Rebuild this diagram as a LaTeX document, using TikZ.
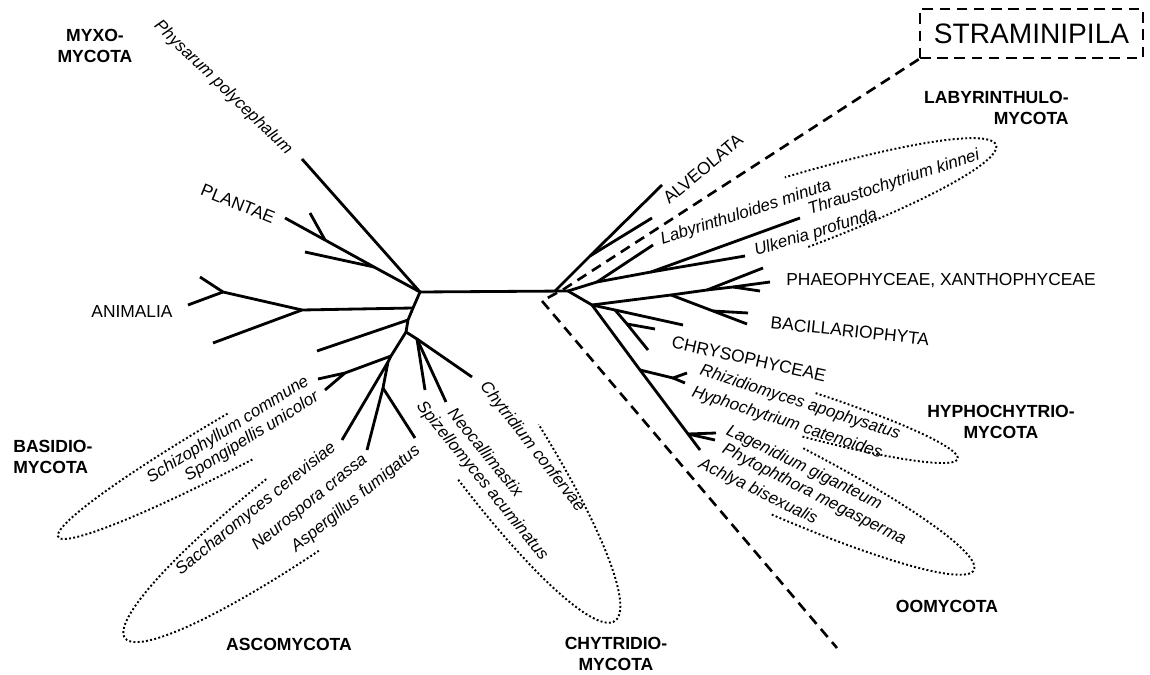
\documentclass[tikz,border=0pt]{standalone}
\usepackage{fontspec}
\setmainfont{Liberation Sans}
\begin{document}
\begin{tikzpicture}[x=0.02cm, y=-0.02cm, line join=round,
        br/.style={line width=1.6pt},
        lbl/.style={inner sep=0pt, font=\fontsize{9.9}{11}\selectfont},
        sp/.style={inner sep=0pt, font=\fontsize{9.6}{11}\selectfont\itshape},
        grp/.style={inner sep=0pt, align=center, font=\fontsize{10}{11.6}\selectfont\bfseries},
        lasso/.style={line width=1.1pt, dash pattern=on 1.1pt off 1.3pt},
        bracket/.style={line width=1.5pt, dash pattern=on 6pt off 3.8pt}]
        \useasboundingbox (0,0) rectangle (1150,675);

        % left hub and its branches
        \coordinate (a) at (420,292);
        \coordinate (s1) at (413,308);
        \coordinate (s2) at (408,320);
        \coordinate (s3) at (406,332);
        \coordinate (s4) at (391,356);
        \coordinate (asc1) at (388,362);
        \coordinate (asc2) at (383,388);
        \coordinate (p1) at (374,267);
        \coordinate (p2) at (325,240);
        \coordinate (an1) at (302,310);
        \coordinate (an2) at (223,292);
        \coordinate (ba1) at (345,373);
        \coordinate (c2) at (417,339);
        \coordinate (tPhys) at (302,159);
        \coordinate (tPl1) at (285,218);
        \coordinate (tPl2) at (310,213);
        \coordinate (tPl3) at (305,252);
        \coordinate (tAn1) at (200,277);
        \coordinate (tAn2) at (188,305);
        \coordinate (tAn3) at (213,343);
        \coordinate (tUn) at (317,351);
        \coordinate (tSchi) at (318,379);
        \coordinate (tSpon) at (325,390);
        \coordinate (tSacc) at (342,440);
        \coordinate (tNeur) at (367,450);
        \coordinate (tAsp) at (415,438);
        \coordinate (tSpiz) at (425,390);
        \coordinate (tNeo) at (446,402);
        \coordinate (tChyt) at (472,377);

        % right hub and its branches
        \coordinate (b1) at (555,291);
        \coordinate (b2) at (568,291);
        \coordinate (al1) at (590,256);
        \coordinate (l1) at (597,282);
        \coordinate (l2) at (651,272);
        \coordinate (ph0) at (592,305);
        \coordinate (ph1) at (671,295);
        \coordinate (ph2) at (707,290);
        \coordinate (ph3) at (733,287);
        \coordinate (bac1) at (713,311);
        \coordinate (ch1) at (615,310);
        \coordinate (ch2) at (627,324);
        \coordinate (hy0) at (640,370);
        \coordinate (hy1) at (673,378);
        \coordinate (oo0) at (688,434);
        \coordinate (tAlv) at (662,185);
        \coordinate (tAl2) at (652,218);
        \coordinate (tLaby) at (653,245);
        \coordinate (tUlk) at (745,256);
        \coordinate (tThr) at (800,218);
        \coordinate (tPh1) at (763,268);
        \coordinate (tPh2) at (770,282);
        \coordinate (tPh3) at (760,291);
        \coordinate (tBa1) at (748,313);
        \coordinate (tBa2) at (747,324);
        \coordinate (tCh1) at (683,325);
        \coordinate (tCh2) at (648,350);
        \coordinate (tCh3) at (655,329);
        \coordinate (tHy1) at (687,373);
        \coordinate (tHy2) at (685,383);
        \coordinate (tOo1) at (716,433);
        \coordinate (tOo2) at (715,440);
        \coordinate (tAch) at (700,450);

        \draw[br] (a) to (b2);
        \draw[br] (a) to (tPhys);
        \draw[br] (a) to (p1) to (p2) to (tPl1);
        \draw[br] (p1) to (tPl3);
        \draw[br] (p2) to (tPl2);
        \draw[br] (a) to (s1) to (s2) to (s3) to (s4) to (asc1) to (asc2) to (tNeur);
        \draw[br] (s1) to (an1) to (tAn3);
        \draw[br] (an1) to (an2) to (tAn1);
        \draw[br] (an2) to (tAn2);
        \draw[br] (s2) to (tUn);
        \draw[br] (s3) to (c2) to (tChyt);
        \draw[br] (c2) to (tSpiz);
        \draw[br] (c2) to (tNeo);
        \draw[br] (s4) to (ba1) to (tSchi);
        \draw[br] (ba1) to (tSpon);
        \draw[br] (asc1) to (tSacc);
        \draw[br] (asc2) to (tAsp);

        \draw[br] (b1) to (al1) to (tAlv);
        \draw[br] (al1) to (tAl2);
        \draw[br] (b2) to (l1) to (l2) to (tThr);
        \draw[br] (l1) to (tLaby);
        \draw[br] (l2) to (tUlk);
        \draw[br] (b2) to (ph0) to (ph1) to (ph2) to (ph3) to (tPh2);
        \draw[br] (ph2) to (tPh1);
        \draw[br] (ph3) to (tPh3);
        \draw[br] (ph1) to (bac1) to (tBa2);
        \draw[br] (bac1) to (tBa1);
        \draw[br] (ph0) to (ch1) to (tCh1);
        \draw[br] (ch1) to (ch2) to (tCh2);
        \draw[br] (ch2) to (tCh3);
        \draw[br] (ph0) to (hy0) to (oo0) to (tAch);
        \draw[br] (hy0) to (hy1) to (tHy1);
        \draw[br] (hy1) to (tHy2);
        \draw[br] (oo0) to (tOo1);
        \draw[br] (oo0) to (tOo2);

        % taxon labels
        \node[sp, rotate=-44] (lPhys) at (223,88) {Physarum polycephalum};
        \node[lbl, rotate=-22] (lPlan) at (238,204) {PLANTAE};
        \node[lbl] (lAnim) at (132,312) {ANIMALIA};
        \node[sp, rotate=32] (lSchi) at (228,430) {Schizophyllum commune};
        \node[sp, rotate=32] (lSpon) at (252,437) {Spongipellis unicolor};
        \node[sp, rotate=39] (lSacc) at (256,509) {Saccharomyces cerevisiae};
        \node[sp, rotate=39] (lNeur) at (310,503) {Neurospora crassa};
        \node[sp, rotate=39] (lAsp) at (356,499) {Aspergillus fumigatus};
        \node[sp, rotate=-51] (lSpiz) at (482,481) {Spizellomyces acuminatus};
        \node[sp, rotate=-51] (lNeo) at (486,452) {Neocallimastix};
        \node[sp, rotate=-52] (lChyt) at (532,447) {Chytridium confervae};
        \node[lbl, rotate=40] (lAlv) at (703,169) {ALVEOLATA};
        \node[sp, rotate=18] (lLaby) at (746,213) {Labyrinthuloides minuta};
        \node[sp, rotate=18] (lThr) at (894,183) {Thraustochytrium kinnei};
        \node[sp, rotate=17] (lUlk) at (816,233) {Ulkenia profunda};
        \node[lbl] (lPhae) at (941,281) {PHAEOPHYCEAE, XANTHOPHYCEAE};
        \node[lbl, rotate=-6] (lBac) at (850,331) {BACILLARIOPHYTA};
        \node[lbl, rotate=-12.6] (lChr) at (749,359) {CHRYSOPHYCEAE};
        \node[sp, rotate=-18] (lRhi) at (800,403) {Rhizidiomyces apophysatus};
        \node[sp, rotate=-18] (lHyp) at (787,423) {Hyphochytrium catenoides};
        \node[sp, rotate=-26] (lLag) at (804,468) {Lagenidium giganteum};
        \node[sp, rotate=-27] (lPhy) at (814,495) {Phytophthora megasperma};
        \node[sp, rotate=-26] (lAch) at (758,492) {Achlya bisexualis};

        % group labels
        \node[grp] (gMyxo) at (95,46) {MYXO-\\MYCOTA};
        \node[grp, align=left, anchor=west] (gBasi) at (13,457) {BASIDIO-\\MYCOTA};
        \node[grp] (gAsco) at (289,644) {ASCOMYCOTA};
        \node[grp] (gChyt) at (616,654) {CHYTRIDIO-\\MYCOTA};
        \node[grp] (gHyph) at (1001,422) {HYPHOCHYTRIO-\\MYCOTA};
        \node[grp] (gOomy) at (947,606) {OOMYCOTA};
        \node[grp, align=right, anchor=east] (gLaby) at (1069,108) {LABYRINTHULO-\\MYCOTA};
        \node[bracket, draw, minimum width=4.46cm, minimum height=0.98cm,
            font=\fontsize{16}{19}\selectfont] (strami) at (1031.5,33.5) {STRAMINIPILA};

        % straminipila bracket
        \coordinate (dk1) at (564,289);
        \coordinate (dk2) at (542,301);
        \coordinate (dEnd) at (837,648);
        \draw[bracket] (strami.south west) to (dk1) to (dk2) to (dEnd);

        % dotted lassos
        \begin{scope}[shift={(303.7,401.4)}, rotate=28.9]
            \draw[lasso] (105:5.61cm and 0.54cm) arc[start angle=105, end angle=255, x radius=5.61cm, y radius=0.54cm];
        \end{scope}
        \begin{scope}[shift={(351,472)}, rotate=36.3]
            \draw[lasso] (105:5.61cm and 0.92cm) arc[start angle=105, end angle=255, x radius=5.61cm, y radius=0.92cm];
        \end{scope}
        \begin{scope}[shift={(457.7,393)}, rotate=124.6]
            \draw[lasso] (105:5.54cm and 1.01cm) arc[start angle=105, end angle=255, x radius=5.54cm, y radius=1.01cm];
        \end{scope}
        \begin{scope}[shift={(756.9,399.4)}, rotate=163.5]
            \draw[lasso] (105:4.19cm and 0.47cm) arc[start angle=105, end angle=255, x radius=4.19cm, y radius=0.47cm];
        \end{scope}
        \begin{scope}[shift={(722.4,450.5)}, rotate=154.6]
            \draw[lasso] (105:5.57cm and 0.76cm) arc[start angle=105, end angle=255, x radius=5.57cm, y radius=0.76cm];
        \end{scope}
        \begin{scope}[shift={(726.9,235.6)}, rotate=198.6]
            \draw[lasso] (105:5.68cm and 0.76cm) arc[start angle=105, end angle=255, x radius=5.68cm, y radius=0.76cm];
        \end{scope}
\end{tikzpicture}
\end{document}
